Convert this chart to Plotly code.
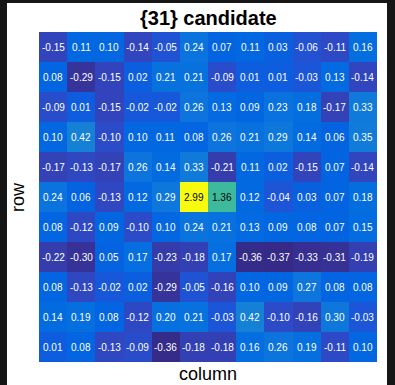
import plotly.graph_objects as go

# Matrix of scores, rows listed top to bottom, 12 columns each
row_01 = [-0.15, 0.11, 0.10, -0.14, -0.05, 0.24, 0.07, 0.11, 0.03, -0.06, -0.11, 0.16]
row_02 = [0.08, -0.29, -0.15, 0.02, 0.21, 0.21, -0.09, 0.01, 0.01, -0.03, 0.13, -0.14]
row_03 = [-0.09, 0.01, -0.15, -0.02, -0.02, 0.26, 0.13, 0.09, 0.23, 0.18, -0.17, 0.33]
row_04 = [0.10, 0.42, -0.10, 0.10, 0.11, 0.08, 0.26, 0.21, 0.29, 0.14, 0.06, 0.35]
row_05 = [-0.17, -0.13, -0.17, 0.26, 0.14, 0.33, -0.21, 0.11, 0.02, -0.15, 0.07, -0.14]
row_06 = [0.24, 0.06, -0.13, 0.12, 0.29, 2.99, 1.36, 0.12, -0.04, 0.03, 0.07, 0.18]
row_07 = [0.08, -0.12, 0.09, -0.10, 0.10, 0.24, 0.21, 0.13, 0.09, 0.08, 0.07, 0.15]
row_08 = [-0.22, -0.30, 0.05, 0.17, -0.23, -0.18, 0.17, -0.36, -0.37, -0.33, -0.31, -0.19]
row_09 = [0.08, -0.13, -0.02, 0.02, -0.29, -0.05, -0.16, 0.10, 0.09, 0.27, 0.08, 0.08]
row_10 = [0.14, 0.19, 0.08, -0.12, 0.20, 0.21, -0.03, 0.42, -0.10, -0.16, 0.30, -0.03]
row_11 = [0.01, 0.08, -0.13, -0.09, -0.36, -0.18, -0.18, 0.16, 0.26, 0.19, -0.11, 0.10]

rows = [row_01, row_02, row_03, row_04, row_05, row_06,
        row_07, row_08, row_09, row_10, row_11]
col_idx = list(range(1, 13))
row_idx = list(range(1, 12))

# MATLAB parula colormap (64 entries)
parula_rgb = [
    (0.2081, 0.1663, 0.5292), (0.2116, 0.1898, 0.5777), (0.2123, 0.2138, 0.6270),
    (0.2081, 0.2386, 0.6771), (0.1959, 0.2645, 0.7279), (0.1707, 0.2919, 0.7792),
    (0.1253, 0.3242, 0.8303), (0.0591, 0.3598, 0.8683), (0.0117, 0.3875, 0.8820),
    (0.0060, 0.4086, 0.8828), (0.0165, 0.4266, 0.8786), (0.0329, 0.4430, 0.8720),
    (0.0498, 0.4586, 0.8641), (0.0629, 0.4737, 0.8554), (0.0723, 0.4887, 0.8467),
    (0.0779, 0.5040, 0.8384), (0.0793, 0.5200, 0.8312), (0.0749, 0.5375, 0.8263),
    (0.0641, 0.5570, 0.8240), (0.0488, 0.5772, 0.8228), (0.0343, 0.5966, 0.8199),
    (0.0265, 0.6137, 0.8135), (0.0239, 0.6287, 0.8038), (0.0231, 0.6418, 0.7913),
    (0.0228, 0.6535, 0.7768), (0.0267, 0.6642, 0.7607), (0.0384, 0.6743, 0.7436),
    (0.0590, 0.6838, 0.7254), (0.0843, 0.6928, 0.7062), (0.1133, 0.7015, 0.6859),
    (0.1453, 0.7098, 0.6646), (0.1801, 0.7177, 0.6424), (0.2178, 0.7250, 0.6193),
    (0.2586, 0.7317, 0.5954), (0.3022, 0.7376, 0.5712), (0.3482, 0.7424, 0.5473),
    (0.3953, 0.7459, 0.5244), (0.4420, 0.7481, 0.5033), (0.4871, 0.7491, 0.4840),
    (0.5300, 0.7491, 0.4661), (0.5709, 0.7485, 0.4494), (0.6099, 0.7473, 0.4337),
    (0.6473, 0.7456, 0.4188), (0.6834, 0.7435, 0.4044), (0.7184, 0.7411, 0.3905),
    (0.7525, 0.7384, 0.3768), (0.7858, 0.7356, 0.3633), (0.8185, 0.7327, 0.3498),
    (0.8507, 0.7299, 0.3360), (0.8824, 0.7274, 0.3217), (0.9139, 0.7258, 0.3063),
    (0.9450, 0.7261, 0.2886), (0.9739, 0.7314, 0.2666), (0.9938, 0.7455, 0.2403),
    (0.9990, 0.7653, 0.2164), (0.9955, 0.7861, 0.1967), (0.9880, 0.8066, 0.1794),
    (0.9789, 0.8271, 0.1633), (0.9697, 0.8481, 0.1475), (0.9626, 0.8705, 0.1309),
    (0.9589, 0.8949, 0.1132), (0.9598, 0.9218, 0.0948), (0.9661, 0.9514, 0.0755),
    (0.9763, 0.9831, 0.0538),
]
n_col = len(parula_rgb)
parula = [
    [i / (n_col - 1), "rgb({},{},{})".format(*(round(255 * c) for c in rgb))]
    for i, rgb in enumerate(parula_rgb)
]

zmin = min(min(r) for r in rows)
zmax = max(max(r) for r in rows)

fig = go.Figure(go.Heatmap(
    z=rows, x=col_idx, y=row_idx,
    colorscale=parula, zmin=zmin, zmax=zmax,
    showscale=False, xgap=0, ygap=0, hoverinfo="skip",
))

FONT = "Liberation Sans, Arial, Helvetica"

annotations = []
for ri, r in zip(row_idx, rows):
    for ci, v in zip(col_idx, r):
        frac = (v - zmin) / (zmax - zmin)
        annotations.append(dict(
            x=ci, y=ri, xref="x", yref="y", text=f"{v:.2f}",
            showarrow=False,
            font=dict(family=FONT, size=10,
                      color="black" if frac > 0.45 else "white"),
        ))

# Axis labels and title
annotations.append(dict(
    x=0.5, y=0, xref="paper", yref="paper", yanchor="top", yshift=0,
    text="column", showarrow=False,
    font=dict(family=FONT, size=18, color="black"),
))
annotations.append(dict(
    x=0, y=0.5, xref="paper", yref="paper", xanchor="right", xshift=-9,
    text="row", textangle=-90, showarrow=False,
    font=dict(family=FONT, size=18, color="black"),
))
annotations.append(dict(
    x=0.5, y=1, xref="paper", yref="paper", yanchor="bottom", yshift=1,
    text="<b>{31} candidate</b>", showarrow=False,
    font=dict(family=FONT, size=20, color="black"),
))

fig.update_layout(
    width=395, height=385,
    margin=dict(l=39, r=18, t=32, b=23),
    paper_bgcolor="#161616",
    plot_bgcolor="white",
    annotations=annotations,
    shapes=[dict(type="rect", xref="paper", yref="paper",
                 x0=(7 - 39) / 338, x1=(387 - 39) / 338,
                 y0=-0.08, y1=(362 - 3) / 330,
                 fillcolor="white", line=dict(width=0), layer="below")],
    xaxis=dict(showticklabels=False, ticks="", showgrid=False,
               zeroline=False, range=[0.5, 12.5]),
    yaxis=dict(showticklabels=False, ticks="", showgrid=False,
               zeroline=False, range=[11.5, 0.5]),
)

fig.write_html("out.html")
